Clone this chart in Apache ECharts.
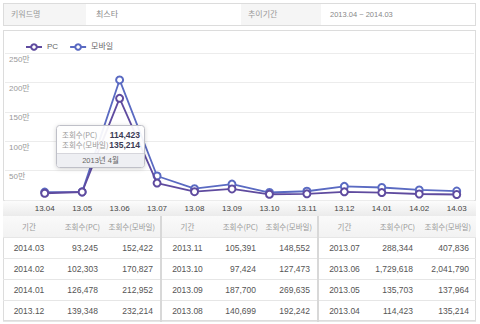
<!DOCTYPE html>
<html>
<head>
<meta charset="utf-8">
<script src="https://cdn.jsdelivr.net/npm/echarts@6/dist/echarts.min.js"></script>
<style>
  html, body { margin:0; padding:0; background:#fff; }
  body { width:480px; height:324px; position:relative; overflow:hidden;
         font-family:"Liberation Sans","Noto Sans CJK KR",sans-serif; }
  #hdr { position:absolute; left:3px; top:3px; width:473px; height:23px; box-sizing:border-box;
         border:1px solid #dcdcdc; display:flex; font-size:8px; }
  #hdr div { box-sizing:border-box; height:100%; line-height:21px; padding-left:7px; }
  #hdr .lab { background:#f5f5f5; color:#999; }
  #hdr .val { background:#fff; color:#888; }
  #box { position:absolute; left:3px; top:30px; width:473px; height:291px; box-sizing:border-box;
         border:1px solid #dcdcdc; }
  #chart { position:absolute; left:3px; top:30px; width:473px; height:186px; }
  #tbl { position:absolute; left:3px; top:216px; width:473px; border-collapse:collapse; table-layout:fixed; }
  #tbl td, #tbl th { height:20px; padding:0; font-weight:normal; border-bottom:1px solid #e6e6e6;
         font-size:8.5px; color:#555; }
  #tbl th { background:linear-gradient(#fafafa,#f2f2f2); color:#999; font-size:7.5px; height:21px;
         font-family:"Noto Sans CJK KR",sans-serif; }
  #tbl .p { text-align:center; }
  #tbl .n { text-align:right; padding-right:7px; }
  #tbl th.n { padding-right:5px; }
  #tbl .g { border-left:2px solid #d8d8d8; }
</style>
</head>
<body>
<div id="hdr">
  <div class="lab" style="width:82px">키워드명</div>
  <div class="val" style="width:155px;padding-left:10px">최스타</div>
  <div class="lab" style="width:80px">추이기간</div>
  <div class="val" style="flex:1;font-size:7.5px;padding-left:9px">2013.04 ~ 2014.03</div>
</div>
<div id="box"></div>
<div id="chart"></div>
<table id="tbl">
  <colgroup>
    <col style="width:52px"><col style="width:50px"><col style="width:56px">
    <col style="width:52px"><col style="width:50px"><col style="width:55px">
    <col style="width:52px"><col style="width:50px"><col style="width:56px">
  </colgroup>
  <thead><tr id="thead"></tr></thead>
  <tbody id="tbody"></tbody>
</table>
<script>
const categories = ['13.04','13.05','13.06','13.07','13.08','13.09','13.10','13.11','13.12','14.01','14.02','14.03'];
const periods = ['2013.04','2013.05','2013.06','2013.07','2013.08','2013.09','2013.10','2013.11','2013.12','2014.01','2014.02','2014.03'];
const pcViews = [114423,135703,1729618,288344,140699,187700,97424,105391,139348,126478,102303,93245];
const mobileViews = [135214,137964,2041790,407836,192242,269635,127473,148552,232214,212952,170827,152422];
const seriesNames = ['PC','모바일'];
const yTickLabels = ['', '50만', '100만', '150만', '200만', '250만'];
const columnHeaders = ['기간','조회수(PC)','조회수(모바일)'];
const tipLabels = ['조회수(PC)','조회수(모바일)'];

const fmt = v => v.toLocaleString('en-US');

// table
const thead = document.getElementById('thead');
let th = '';
for (let g = 0; g < 3; g++) {
  columnHeaders.forEach((h, i) => {
    th += '<th class="' + (i === 0 ? 'p' : 'n') + (g > 0 && i === 0 ? ' g' : '') + '">' + h + '</th>';
  });
}
thead.innerHTML = th;
const order = periods.map((p, i) => i).reverse();
let tb = '';
for (let r = 0; r < 4; r++) {
  tb += '<tr>';
  for (let g = 0; g < 3; g++) {
    const i = order[g * 4 + r];
    tb += '<td class="p' + (g > 0 ? ' g' : '') + '">' + periods[i] + '</td>';
    tb += '<td class="n">' + fmt(pcViews[i]) + '</td>';
    tb += '<td class="n">' + fmt(mobileViews[i]) + '</td>';
  }
  tb += '</tr>';
}
document.getElementById('tbody').innerHTML = tb;

// chart
const chart = echarts.init(document.getElementById('chart'), null, { renderer: 'svg' });
const cPC = '#5f4b9f', cMO = '#5a6ac2';
const ff = '"Liberation Sans","Noto Sans CJK KR",sans-serif';
const tipMonth = periods[0].slice(0, 4) + '년 ' + parseInt(periods[0].slice(5), 10) + '월';

chart.setOption({
  animation: false,
  color: [cPC, cMO],
  textStyle: { fontFamily: ff },
  legend: {
    left: 17, top: 8, itemWidth: 16, itemHeight: 7, itemGap: 11,
    data: seriesNames,
    textStyle: { fontSize: 8, color: '#666', fontFamily: ff }
  },
  grid: [
    { left: 41.7, right: 19.3, top: 23, bottom: 16 },
    { left: 2, right: 2, top: 23, bottom: 16 }
  ],
  xAxis: [
    { type: 'category', gridIndex: 0, data: categories, boundaryGap: false,
      axisLine: { show: false }, axisTick: { show: false }, splitLine: { show: false },
      axisLabel: { color: '#444', fontSize: 8, margin: 4, fontFamily: ff } },
    { type: 'value', gridIndex: 1, min: 0, max: 1, show: false }
  ],
  yAxis: [
    { type: 'value', gridIndex: 0, min: 0, max: 2500000, interval: 500000, show: false },
    { type: 'value', gridIndex: 1, min: 0, max: 2500000, interval: 500000,
      axisLine: { show: false }, axisTick: { show: false },
      splitLine: { lineStyle: { color: '#ececec', width: 1 } },
      axisLabel: { inside: true, margin: 4, fontSize: 8, color: '#999', verticalAlign: 'top',
        lineHeight: 12, fontFamily: ff,
        formatter: v => yTickLabels[Math.round(v / 500000)] } }
  ],
  series: [
    { name: seriesNames[0], type: 'line', xAxisIndex: 0, yAxisIndex: 0, data: pcViews,
      symbol: 'emptyCircle', symbolSize: 7, z: 4,
      lineStyle: { color: cPC, width: 1.8 },
      itemStyle: { color: cPC, borderWidth: 1.3 } },
    { name: seriesNames[1], type: 'line', xAxisIndex: 0, yAxisIndex: 0, data: mobileViews,
      symbol: 'emptyCircle', symbolSize: 7, z: 3,
      lineStyle: { color: cMO, width: 1.8 },
      itemStyle: { color: cMO, borderWidth: 1.3 } }
  ],
  graphic: [
    { type: 'rect', silent: true, z: -10,
      shape: { x: 0, y: 170, width: 473, height: 16 },
      style: { fill: new echarts.graphic.LinearGradient(0, 0, 0, 1,
        [{ offset: 0, color: '#fdfdfd' }, { offset: 1, color: '#ebebeb' }]) } },
    { type: 'line', silent: true, z: -9,
      shape: { x1: 0, y1: 170.5, x2: 473, y2: 170.5 }, style: { stroke: '#e2e2e2', lineWidth: 1 } },
    { type: 'rect', silent: true, z: 100,
      shape: { x: 53.5, y: 95.5, width: 88, height: 42, r: 3 },
      style: { fill: 'rgba(255,255,255,0.92)', stroke: '#bfc0c8', lineWidth: 1,
               shadowBlur: 4, shadowColor: 'rgba(0,0,0,0.18)', shadowOffsetY: 1 } },
    { type: 'rect', silent: true, z: 101,
      shape: { x: 54, y: 123.5, width: 87, height: 13.5, r: [0, 0, 3, 3] },
      style: { fill: '#eeeff3' } },
    { type: 'line', silent: true, z: 102,
      shape: { x1: 54, y1: 123.5, x2: 141, y2: 123.5 }, style: { stroke: '#d6d6dc', lineWidth: 1 } },
    { type: 'text', silent: true, z: 103, x: 59, y: 104.5,
      style: { text: tipLabels[0], fill: '#999', fontSize: 7.5,
        fontFamily: '"Noto Sans CJK KR",sans-serif', verticalAlign: 'middle' } },
    { type: 'text', silent: true, z: 103, x: 59, y: 114.5,
      style: { text: tipLabels[1], fill: '#999', fontSize: 7.5,
        fontFamily: '"Noto Sans CJK KR",sans-serif', verticalAlign: 'middle' } },
    { type: 'text', silent: true, z: 103, x: 137, y: 104.5,
      style: { text: fmt(pcViews[0]), fill: '#3b3b55', fontSize: 8.5, fontWeight: 'bold',
        fontFamily: ff, align: 'right', verticalAlign: 'middle' } },
    { type: 'text', silent: true, z: 103, x: 137, y: 114.5,
      style: { text: fmt(mobileViews[0]), fill: '#3b3b55', fontSize: 8.5, fontWeight: 'bold',
        fontFamily: ff, align: 'right', verticalAlign: 'middle' } },
    { type: 'text', silent: true, z: 103, x: 97.5, y: 130.5,
      style: { text: tipMonth, fill: '#666', fontSize: 7.5,
        fontFamily: ff, align: 'center', verticalAlign: 'middle' } }
  ]
});
</script>
</body>
</html>
